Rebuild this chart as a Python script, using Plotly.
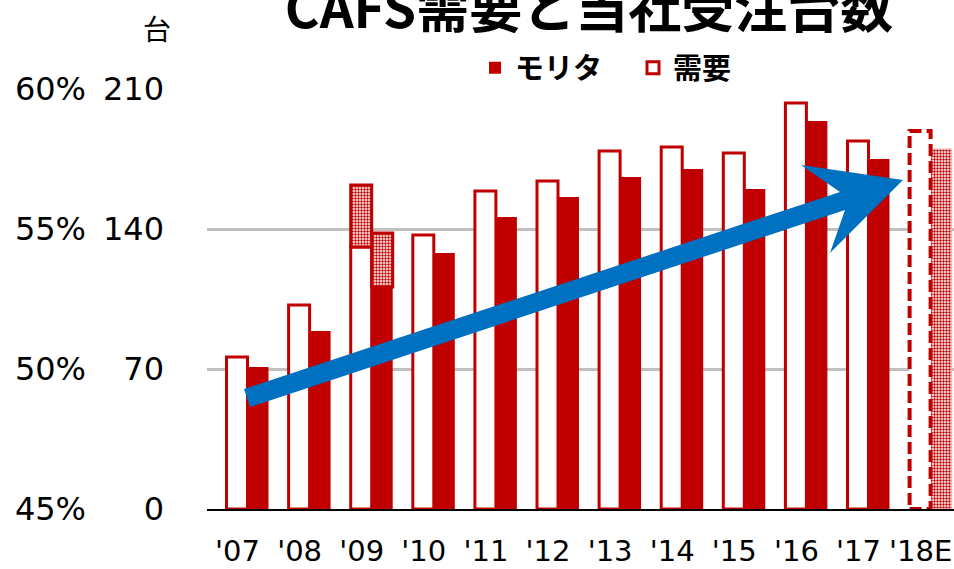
import plotly.graph_objects as go

# ---------------- data ----------------
years = ["'07", "'08", "'09", "'10", "'11", "'12", "'13", "'14", "'15", "'16", "'17", "'18E"]
demand = [76, 102, 162, 137, 159, 164, 179, 181, 178, 203, 184, 189]   # 需要
morita = [71, 89, 138, 128, 146, 156, 166, 170, 160, 194, 175, 180]    # モリタ
# '09: part below the split is solid, above it hatched
split_year = "'09"
demand_split = 131
morita_split = 111
forecast_year = "'18E"

y_ticks = [0, 70, 140, 210]
pct_ticks = [45, 50, 55, 60]

# ---------------- styling ----------------
RED = "#c00000"
BLUE = "#0070c0"
W = 0.338  # bar width in category units
FONT = "DejaVu Sans"
CJK = "Noto Sans CJK JP"

idx = list(range(len(years)))
i09 = years.index(split_year)
i18 = years.index(forecast_year)

morita_solid = [morita_split if i == i09 else (None if i == i18 else morita[i]) for i in idx]
demand_solid = [demand_split if i == i09 else (None if i == i18 else demand[i]) for i in idx]

hatch = dict(shape=".", fgcolor=RED, bgcolor="white", size=3, solidity=0.5, fillmode="replace")

fig = go.Figure()

fig.add_trace(go.Bar(
    name="モリタ", x=idx, y=morita_solid, offset=0, width=W,
    marker=dict(color=RED, line=dict(width=0)), hoverinfo="skip"))
fig.add_trace(go.Bar(
    name="需要", x=idx, y=demand_solid, offset=-W, width=W,
    marker=dict(color="white", line=dict(color=RED, width=3)), hoverinfo="skip"))

# hatched parts
fig.add_trace(go.Bar(
    x=[i09, i18], y=[morita[i09] - morita_split, morita[i18]], base=[morita_split, 0],
    offset=0, width=W, showlegend=False, hoverinfo="skip",
    marker=dict(color="white", pattern=hatch, line=dict(color=[RED, "#f2b8b8"], width=[3, 1]))))
fig.add_trace(go.Bar(
    x=[i09], y=[demand[i09] - demand_split], base=[demand_split],
    offset=-W, width=W, showlegend=False, hoverinfo="skip",
    marker=dict(color="white", pattern=hatch, line=dict(color=RED, width=3))))

# invisible trace for the percentage axis
fig.add_trace(go.Scatter(x=[0], y=[pct_ticks[0]], yaxis="y2", mode="markers",
                         marker=dict(opacity=0), showlegend=False, hoverinfo="skip"))

# forecast demand: dashed outline
fig.add_shape(type="rect", xref="x", yref="y", x0=i18 - W, x1=i18, y0=0, y1=demand[i18],
              line=dict(color=RED, width=4, dash="12px,5px"), fillcolor="white", layer="above")

# ---------------- trend arrow (decoration, pixel geometry) ----------------
L, R, T, B = 207, 954, 89, 509
arrow_px = [(244, 389), (840, 192), (801, 165), (903, 180), (830, 253), (845, 210), (250, 407)]
def to_paper(p):
    return ((p[0] - L) / (R - L), (B - p[1]) / (B - T))
pts = [to_paper(p) for p in arrow_px]
path = "M " + " L ".join(f"{x:.4f},{y:.4f}" for x, y in pts) + " Z"
fig.add_shape(type="path", xref="paper", yref="paper", path=path,
              fillcolor=BLUE, line=dict(width=0), layer="above")

# ---------------- layout ----------------
x_lo = (L - 247.5) / 62.1
x_hi = (R - 247.5) / 62.1

fig.update_layout(
    width=954, height=569,
    margin=dict(l=L, r=954 - R, t=T, b=569 - B, autoexpand=False),
    plot_bgcolor="white", paper_bgcolor="white",
    barmode="overlay",
    showlegend=True,
    title=dict(text="<b>CAFS需要と当社受注台数</b>", x=589 / 954, xanchor="center",
               y=1 - 9 / 569, yanchor="middle", yref="container", automargin=False,
               font=dict(family=CJK, size=53, color="black")),
    legend=dict(orientation="h", x=(475 - L) / (R - L), xanchor="left",
                y=1 + 21 / (B - T), yanchor="middle",
                entrywidth=113, entrywidthmode="pixels",
                font=dict(family=CJK, size=29, color="black", weight="bold"),
                bgcolor="rgba(0,0,0,0)", itemclick=False, itemdoubleclick=False),
    xaxis=dict(range=[x_lo, x_hi], tickmode="array", tickvals=idx, ticktext=years,
               showgrid=False, zeroline=False, showline=True, linecolor="black", linewidth=2,
               ticks="", ticklabelstandoff=15, ticklabelshift=-10, automargin=False,
               tickfont=dict(family=FONT, size=29, color="black")),
    yaxis=dict(range=[0, 210], tickmode="array", tickvals=y_ticks,
               showgrid=True, gridcolor="#c0c0c0", gridwidth=3, zeroline=False, showline=False,
               ticks="", ticklabelstandoff=42, automargin=False,
               tickfont=dict(family=FONT, size=32, color="black")),
    yaxis2=dict(range=[45, 60], tickmode="array", tickvals=pct_ticks,
                ticktext=[f"{v}%" for v in pct_ticks],
                overlaying="y", side="left", anchor="free", position=0,
                showgrid=False, zeroline=False, showline=False, ticks="",
                ticklabelstandoff=121, automargin=False,
                tickfont=dict(family=FONT, size=32, color="black")),
    annotations=[dict(text="台", xref="paper", yref="paper",
                      x=(157 - L) / (R - L), y=(B - 28) / (B - T),
                      xanchor="center", yanchor="middle", showarrow=False,
                      font=dict(family=CJK, size=28, color="black"))],
)

fig.write_html("out.html", config={"displayModeBar": False},
               post_script="document.body.style.margin='0';")
